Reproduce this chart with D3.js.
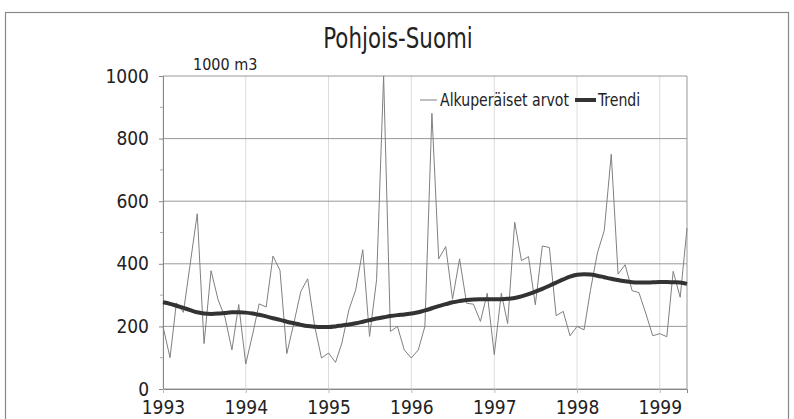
<!DOCTYPE html>
<html>
<head>
<meta charset="utf-8">
<script src="https://cdn.jsdelivr.net/npm/d3@7"></script>
<style>
  body { margin: 0; background: #fff; }
  text { font-family: "DejaVu Sans Condensed", "Liberation Sans", sans-serif; fill: #222; }
</style>
</head>
<body>
<script>
    // Data: monthly values Jan 1993 - May 1999 (1000 m3)
    var startYear = 1993, startMonth = 0;
    var original = [
        200, 100, 275, 245, 400, 560, 145, 378, 285, 230, 125, 270,
        80, 177, 272, 262, 425, 379, 113, 210, 312, 352, 200, 99,
        115, 85, 147, 253, 317, 445, 168, 349, 1000, 184, 200, 125,
        99, 125, 200, 881, 416, 455, 287, 416, 274, 271, 216, 306,
        110, 306, 209, 533, 410, 423, 269, 457, 452, 234, 248, 170,
        200, 189, 315, 435, 506, 750, 367, 397, 314, 308, 240, 170,
        177, 167, 376, 293, 514
    ];
    var trend = [
        277, 272, 266, 259, 252, 245, 241, 240, 241, 243, 245, 245,
        244, 241, 237, 232, 226, 221, 215, 210, 205, 201, 199, 198,
        198, 200, 203, 206, 210, 215, 220, 225, 229, 233, 236, 238,
        241, 245, 251, 258, 265, 271, 277, 281, 284, 286, 287, 287,
        287, 287, 288, 291, 296, 303, 311, 320, 330, 340, 350, 359,
        365, 367, 366, 362, 357, 352, 348, 344, 341, 340, 340, 341,
        342, 342, 341, 340, 336
    ];
    var yTicks = [0, 200, 400, 600, 800, 1000];
    var yMinor = [100, 300, 500, 700, 900];
    var yearTicks = [1993, 1994, 1995, 1996, 1997, 1998, 1999];
    var seriesNames = ["Alkuperäiset arvot", "Trendi"];

    var dates = original.map(function(d, i) { return new Date(startYear, startMonth + i, 1); });

    // Dimensions
    var w = 794, h = 419;
    var mLeft = 163, mRight = 687, mTop = 76, mBottom = 389;

    var svg = d3.select("body").append("svg")
        .attr("width", w)
        .attr("height", h);

    // Outer frame
    svg.append("rect")
        .attr("x", 5.5).attr("y", 12.5)
        .attr("width", 783).attr("height", 430)
        .style("fill", "none")
        .style("stroke", "#888")
        .style("stroke-width", 1.2);

    // Scales
    var x = d3.scaleTime()
        .domain([dates[0], dates[dates.length - 1]])
        .range([mLeft, mRight]);

    var y = d3.scaleLinear()
        .domain([0, 1000])
        .range([mBottom, mTop]);

    // Vertical year gridlines
    svg.selectAll(".vgrid")
        .data(yearTicks)
        .enter().append("line")
        .attr("class", "vgrid")
        .attr("x1", d => x(new Date(d, 0, 1)))
        .attr("x2", d => x(new Date(d, 0, 1)))
        .attr("y1", mTop).attr("y2", mBottom)
        .style("stroke", "#dcdcdc")
        .style("stroke-width", 1);

    // Horizontal gridlines
    svg.selectAll(".hgrid")
        .data(yTicks)
        .enter().append("line")
        .attr("class", "hgrid")
        .attr("x1", mLeft).attr("x2", mRight)
        .attr("y1", d => y(d)).attr("y2", d => y(d))
        .style("stroke", "#999")
        .style("stroke-width", 1);

    // Right border
    svg.append("line")
        .attr("x1", mRight).attr("x2", mRight)
        .attr("y1", mTop).attr("y2", mBottom)
        .style("stroke", "#999");

    // Y axis
    var yAxis = svg.append("g")
        .attr("transform", "translate(" + mLeft + ",0)")
        .call(d3.axisLeft(y).tickValues(yTicks).tickFormat(d3.format("d")).tickSize(4).tickPadding(10));
    yAxis.attr("font-family", null);
    yAxis.select(".domain").style("stroke", "#888");
    yAxis.selectAll(".tick line").style("stroke", "#888");
    yAxis.selectAll("text").style("font-size", "19px").style("fill", "#222");

    svg.append("g")
        .attr("transform", "translate(" + mLeft + ",0)")
        .selectAll("line")
        .data(yMinor)
        .enter().append("line")
        .attr("x1", -3).attr("x2", 0)
        .attr("y1", d => y(d)).attr("y2", d => y(d))
        .style("stroke", "#aaa");

    // X axis
    var xAxis = svg.append("g")
        .attr("transform", "translate(0," + mBottom + ")")
        .call(d3.axisBottom(x)
            .tickValues(yearTicks.map(d => new Date(d, 0, 1)))
            .tickFormat(d3.timeFormat("%Y"))
            .tickSize(4).tickPadding(8));
    xAxis.attr("font-family", null);
    xAxis.select(".domain").style("stroke", "#888");
    xAxis.selectAll(".tick line").style("stroke", "#bbb");
    xAxis.selectAll("text").style("font-size", "19px").style("fill", "#222");

    // Lines
    var line = d3.line()
        .x((d, i) => x(dates[i]))
        .y(d => y(d));

    svg.append("path")
        .datum(original)
        .attr("d", line)
        .style("fill", "none")
        .style("stroke", "#808080")
        .style("stroke-width", 1);

    svg.append("path")
        .datum(trend)
        .attr("d", line.curve(d3.curveMonotoneX))
        .style("fill", "none")
        .style("stroke", "#333")
        .style("stroke-width", 4);

    // Title (narrow face, so squeeze horizontally)
    svg.append("text")
        .attr("transform", "translate(398,48) scale(0.82,1)")
        .attr("text-anchor", "middle")
        .style("font-size", "29px")
        .text("Pohjois-Suomi");

    // Unit label
    svg.append("text")
        .attr("x", 193).attr("y", 70)
        .style("font-size", "16px")
        .text("1000 m3");

    // Legend
    var legend = svg.append("g");
    legend.append("line")
        .attr("x1", 420).attr("x2", 437)
        .attr("y1", 100).attr("y2", 100)
        .style("stroke", "#808080").style("stroke-width", 1);
    legend.append("text")
        .attr("transform", "translate(440,106) scale(0.87,1)")
        .style("font-size", "18px")
        .text(seriesNames[0]);
    legend.append("line")
        .attr("x1", 575).attr("x2", 596)
        .attr("y1", 100).attr("y2", 100)
        .style("stroke", "#333").style("stroke-width", 4);
    legend.append("text")
        .attr("transform", "translate(598,106) scale(0.87,1)")
        .style("font-size", "18px")
        .text(seriesNames[1]);
</script>
</body>
</html>
